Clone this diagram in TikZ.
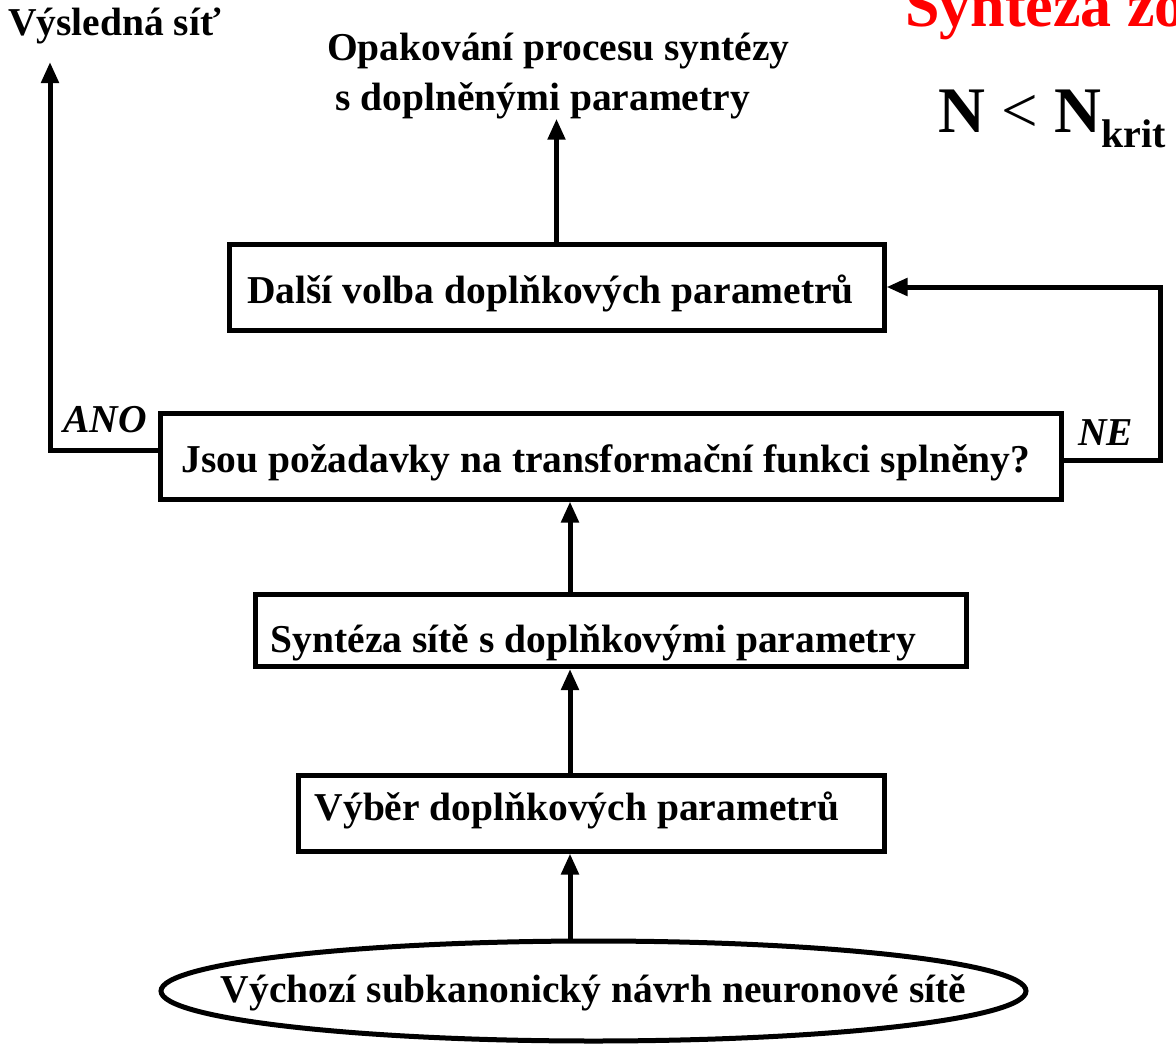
\documentclass[tikz,border=0pt]{standalone}
\usepackage{fontspec}
\setmainfont{Liberation Serif}
\usetikzlibrary{arrows.meta,shapes.geometric}
\begin{document}
\begin{tikzpicture}[x=1pt,y=-1pt,
  box/.style={draw, line width=5pt, rectangle, inner sep=0pt, text height=40pt, text depth=8pt,
    font=\fontsize{39.5}{44}\selectfont\bfseries},
  conn/.style={line width=5pt, -{Triangle[length=21pt,width=17pt]}},
  lbl/.style={font=\fontsize{39.5}{44}\selectfont\bfseries, inner sep=0pt},
  ilbl/.style={font=\fontsize{39.5}{44}\selectfont\bfseries\itshape, inner sep=0pt},
  ]
\useasboundingbox (0,0) rectangle (1176,1047);
\clip (0,0) rectangle (1176,1047);

% red title (cut by the page edge, as in the reference)
\node[font=\fontsize{62}{66}\selectfont\bfseries, text=red, inner sep=0pt, anchor=base west] (title) at (905,26) {Syntéza zo};
% formula
\node[inner sep=0pt, anchor=base west] (formula) at (938,132)
  {\fontsize{65}{70}\selectfont\bfseries N {\mdseries<} N\raisebox{-15pt}{\fontsize{40}{44}\selectfont\bfseries krit}};

% nodes
\node[draw, ellipse, line width=5pt, minimum width=865pt, minimum height=100pt, inner sep=0pt,
  label={[lbl, text height=32pt, text depth=10pt]center:Výchozí subkanonický návrh neuronové sítě}] (e) at (593.5,991) {};
\node[box, minimum width=586pt, minimum height=76pt, text height=30pt, text depth=16pt] (b1) at (591,813) {\hspace*{-28pt}Výběr doplňkových parametrů};
\node[box, minimum width=711pt, minimum height=72pt, text height=51pt, text depth=8pt] (b2) at (610.5,630.5) {\hspace*{-34pt}Syntéza sítě s doplňkovými parametry};
\node[box, minimum width=901pt, minimum height=86pt] (b3) at (610.5,456) {\hspace*{-9pt}Jsou požadavky na transformační funkci splněny?};
\node[box, minimum width=655pt, minimum height=86pt] (b4) at (556.5,287) {\hspace*{-12pt}Další volba doplňkových parametrů};

\node[lbl, anchor=base west] (out) at (8,35) {Výsledná síť};
\node[lbl, anchor=base west] (rep1) at (327,60) {Opakování procesu syntézy};
\node[lbl, anchor=base west] (rep2) at (335,110) {s doplněnými parametry};

\node[ilbl, anchor=base west] (ano) at (63,432) {ANO};
\node[ilbl, anchor=base west] (ne) at (1078,445) {NE};

% connectors
\coordinate (ax) at (570,0);
\draw[conn] (e.north -| ax) -- (b1.south -| ax);
\draw[conn] (b1.north -| ax) -- (b2.south -| ax);
\draw[conn] (b2.north -| ax) -- (b3.south -| ax);

\coordinate (ner) at (1160,460);
\draw[conn] (b3.east |- ner) -- (ner) |- (b4.east);

\coordinate (anol) at (50,450);
\coordinate (outtip) at (50,62);
\draw[conn] (b3.west |- anol) -- (anol) -- (outtip);

\draw[conn] (b4.north) -- (b4.north |- rep2.south);
\end{tikzpicture}
\end{document}
